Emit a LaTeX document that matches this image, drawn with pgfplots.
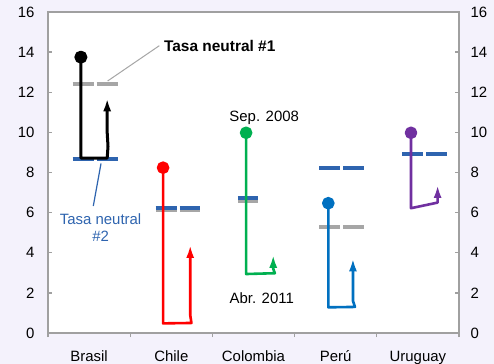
\documentclass[border=0pt]{standalone}
\usepackage{fontspec}
\setmainfont{Liberation Sans}
\usepackage{pgfplots}
\pgfplotsset{compat=1.18}
\usetikzlibrary{arrows.meta}
\definecolor{bgcol}{RGB}{244,242,252}
\definecolor{axisgray}{RGB}{160,160,160}
\definecolor{neutgray}{RGB}{166,166,166}
\definecolor{neutblue}{RGB}{46,100,175}
\definecolor{cBra}{RGB}{0,0,0}
\definecolor{cChi}{RGB}{255,0,0}
\definecolor{cCol}{RGB}{0,176,80}
\definecolor{cPer}{RGB}{0,112,192}
\definecolor{cUru}{RGB}{112,48,160}
\newcommand{\figfont}{\fontsize{15}{17}\selectfont}

\pgfplotsset{
  trail/.style={line width=2.6bp, line join=round, -{Latex[length=13bp,width=8bp]},
    mark=*, mark indices={1}, mark size=5bp, mark options={solid}},
  neut/.style={line width=4bp, dash pattern=on 21bp off 3bp},
}

\begin{document}
\begin{tikzpicture}[font=\figfont]
\fill[bgcol] (-48bp,-31bp) rectangle (446bp,333bp);

\begin{axis}[
  scale only axis, width=411bp, height=321bp,
  at={(0,0)}, anchor=south west,
  xmin=0, xmax=5, ymin=0, ymax=16,
  /pgf/number format/assume math mode=true,
  axis background/.style={fill=white},
  axis line style={axisgray, line width=1.5bp},
  tick style={axisgray, line width=1.3bp},
  major tick length=4bp,
  tick align=inside,
  xtick={0,1,2,3,4,5}, xticklabels={},
  x tick style={yshift=-4bp},
  xtick pos=left, ytick pos=left,
  extra x ticks={0.5,1.5,2.5,3.5,4.5},
  extra x tick labels={Brasil,Chile,Colombia,Perú,Uruguay},
  extra x tick style={major tick length=0pt,
    tick label style={yshift=-14bp, text height=11bp, text depth=3bp}},
  ytick={0,2,...,16},
  y tick label style={xshift=-10bp, font=\figfont},
  clip=false,
]
% neutral rates: #1 gray, #2 blue
\addplot[neutgray, neut] coordinates {(0.30,12.42) (0.85,12.42)};
\addplot[neutblue, neut] coordinates {(0.30,8.68) (0.85,8.68)};
\addplot[neutgray, neut] coordinates {(1.31,6.14) (1.85,6.14)};
\addplot[neutblue, neut] coordinates {(1.31,6.25) (1.85,6.25)};
\addplot[neutgray, line width=4bp] coordinates {(2.31,6.60) (2.56,6.60)};
\addplot[neutblue, line width=4bp] coordinates {(2.31,6.73) (2.56,6.73)};
\addplot[neutgray, neut] coordinates {(3.30,5.30) (3.87,5.30)};
\addplot[neutblue, neut] coordinates {(3.30,8.24) (3.87,8.24)};
\addplot[neutblue, neut] coordinates {(4.31,8.92) (4.88,8.92)};

% Sep. 2008 -> low -> Abr. 2011
\addplot[cBra, trail, line width=3bp] coordinates {
  (0.40,13.75) (0.40,8.72) (0.72,8.72) (0.73,9.3) (0.72,10.0) (0.72,11.7)
};
\addplot[cChi, trail] coordinates {
  (1.40,8.24) (1.40,0.48) (1.745,0.50) (1.73,0.90) (1.73,4.39)
};
\addplot[cCol, trail] coordinates {
  (2.41,9.98) (2.41,2.94) (2.76,2.98) (2.74,3.20) (2.74,3.90)
};
\addplot[cPer, trail] coordinates {
  (3.41,6.47) (3.41,1.28) (3.735,1.30) (3.71,1.60) (3.71,3.72)
};
\addplot[cUru, trail] coordinates {
  (4.416,9.98) (4.416,6.22) (4.74,6.50) (4.74,7.38)
};

% annotations
\draw[neutgray, line width=1bp] (axis cs:0.725,12.56) -- (axis cs:1.354,14.32);
\node[anchor=west, font=\fontsize{15.5}{17}\selectfont\bfseries, inner sep=0pt] at (axis cs:1.41,14.32) {Tasa neutral \#1};
\draw[neutblue, line width=1.2bp] (axis cs:0.645,8.45) -- (axis cs:0.551,6.33);
\node[align=center, text=neutblue, inner sep=0pt] at (axis cs:0.64,5.26) {Tasa neutral\\\#2};
\node[inner sep=0pt] at (axis cs:2.63,10.72) {Sep. 2008};
\node[inner sep=0pt] at (axis cs:2.60,1.76) {Abr. 2011};
\end{axis}

\begin{axis}[
  scale only axis, width=411bp, height=321bp,
  at={(0,0)}, anchor=south west,
  xmin=0, xmax=5, ymin=0, ymax=16,
  /pgf/number format/assume math mode=true,
  axis x line=none, axis y line*=right,
  axis line style={axisgray, line width=1.5bp, -},
  tick style={axisgray, line width=1.3bp},
  major tick length=4bp,
  tick align=inside,
  ytick={0,2,...,16},
  y tick label style={xshift=8bp, font=\figfont},
]
\end{axis}
\pgfresetboundingbox
\path (-48bp,-31bp) rectangle (446bp,333bp);
\end{tikzpicture}
\end{document}
